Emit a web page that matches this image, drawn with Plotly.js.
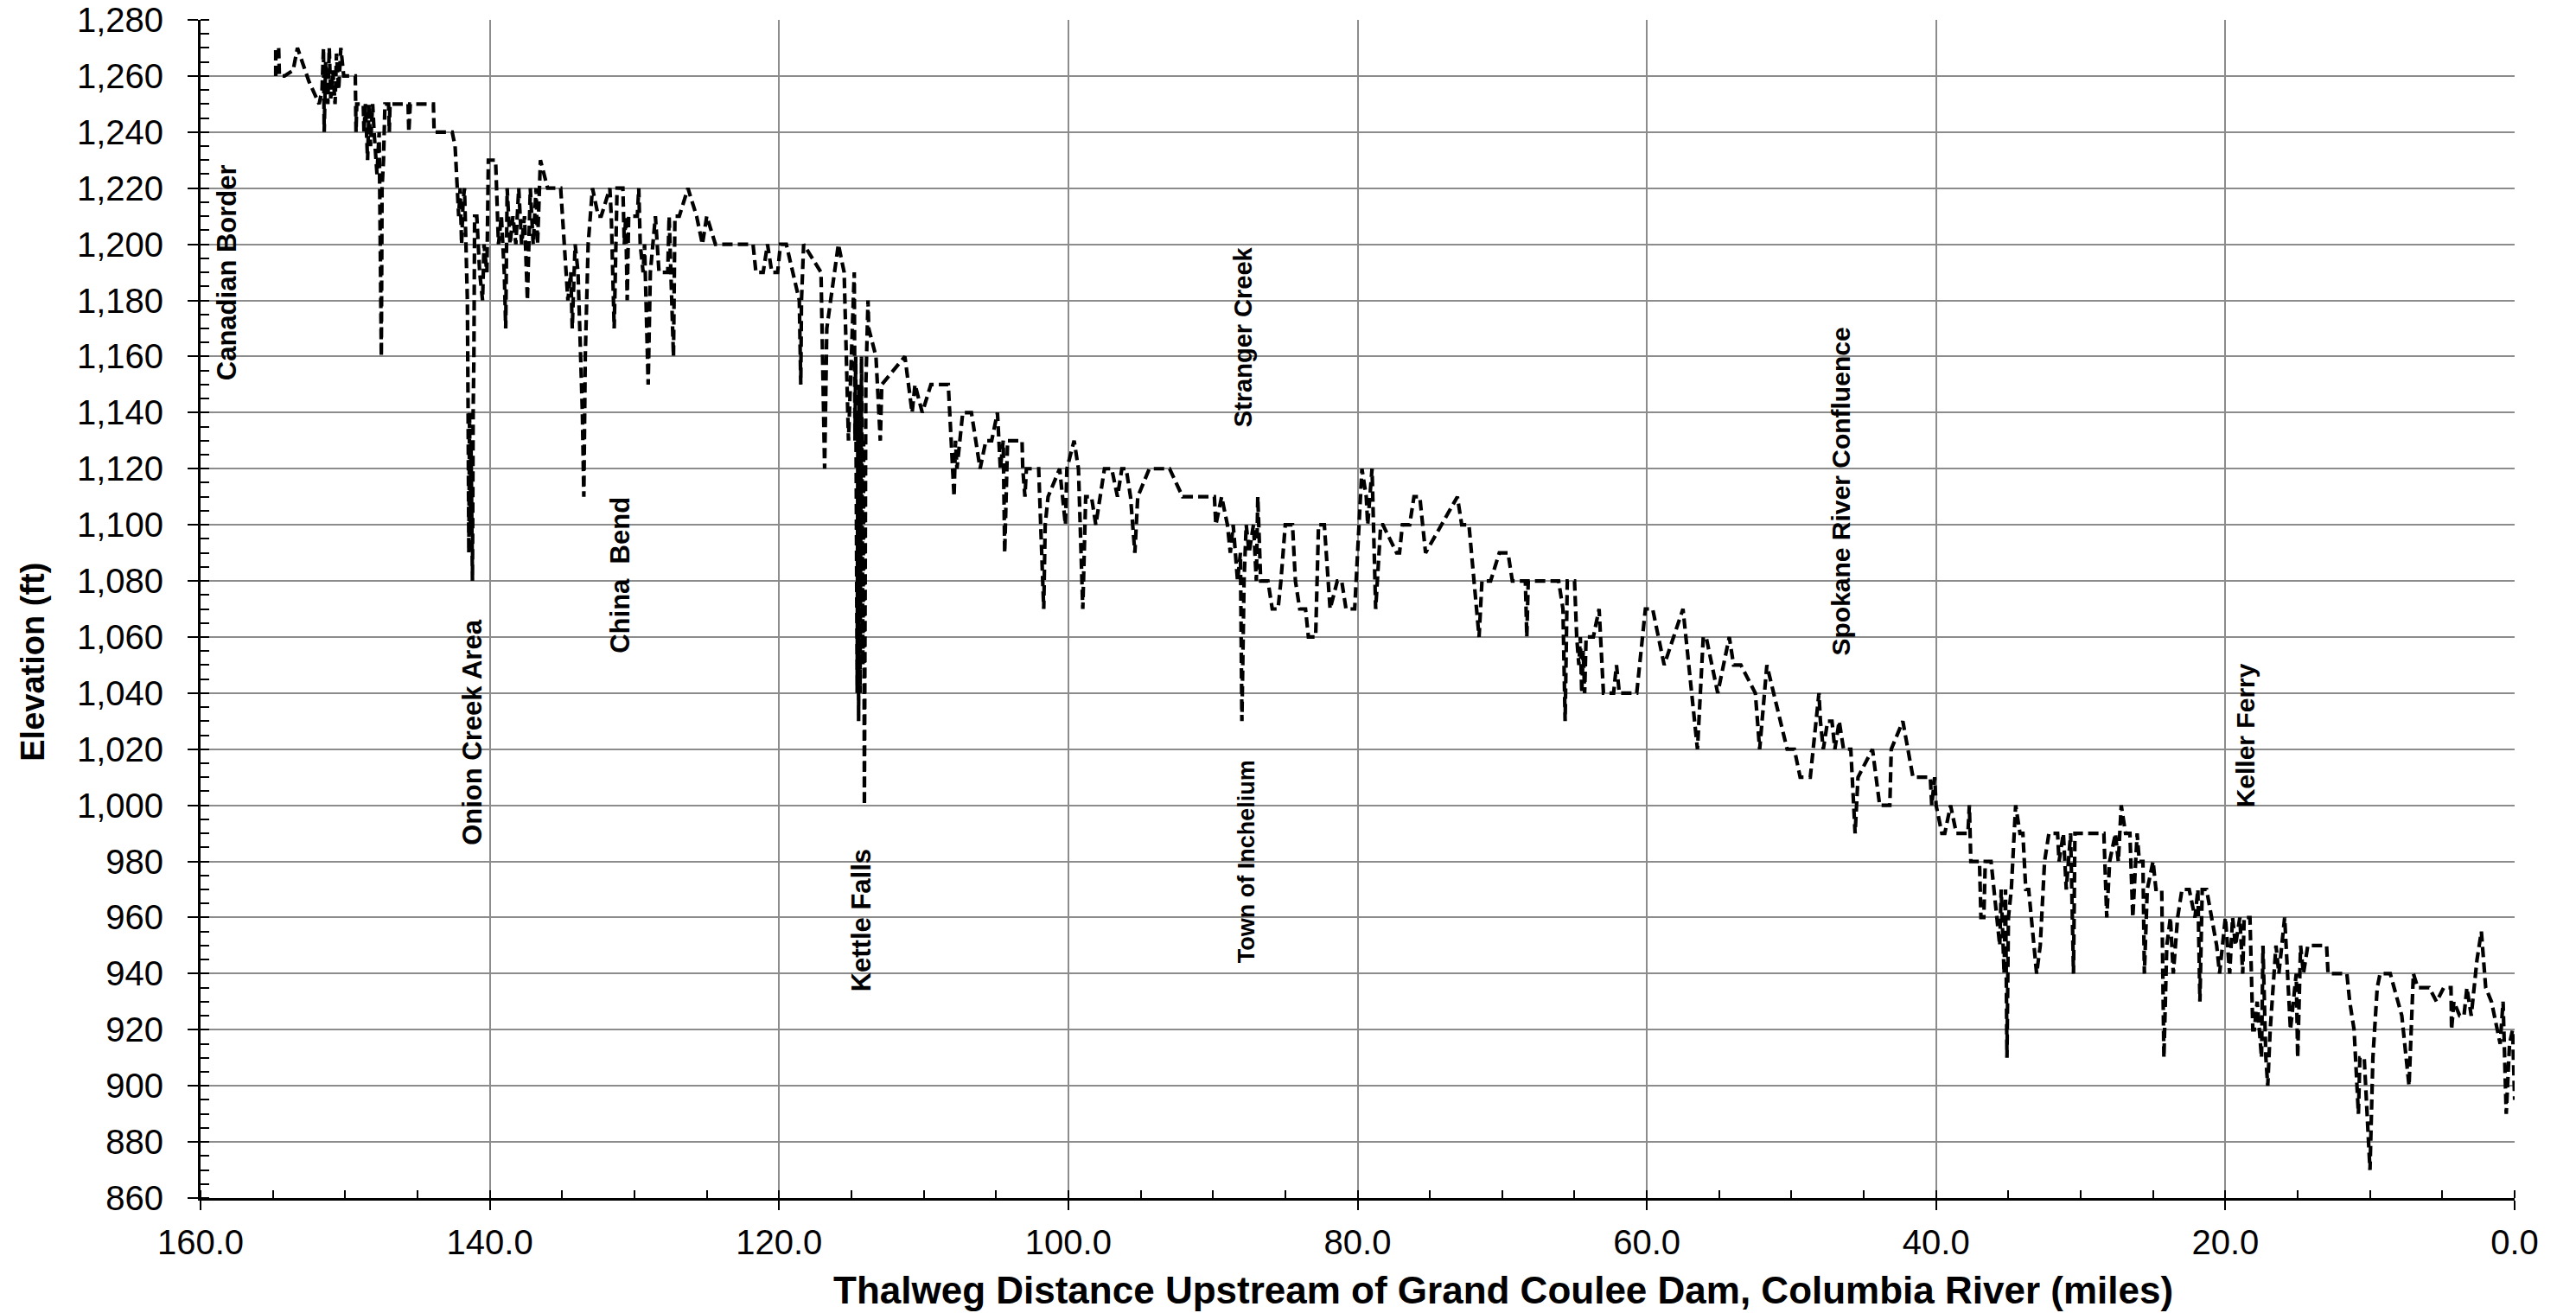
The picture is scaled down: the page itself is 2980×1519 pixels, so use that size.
<!DOCTYPE html>
<html>
<head>
<meta charset="utf-8">
<script src="https://cdn.plot.ly/plotly-3.0.1.min.js"></script>
<style>
  html, body { margin: 0; padding: 0; background: #fff; }
  #chart { width: 2980px; height: 1519px; }
</style>
</head>
<body>
<div id="chart"></div>
<script>
// Thalweg profile: distance upstream of Grand Coulee Dam (miles) and bed elevation (ft)
const distanceMiles = [
  154.8,154.8,154.6,154.55,154.2,153.6,153.3,152.5,151.8,151.6,151.5,151.45,151.35,151.2,151.1,151.0,150.85,150.7,150.6,150.45,150.3,150.1,
  149.3,149.25,149.2,148.75,148.7,148.6,148.45,148.35,148.25,148.1,148.0,147.8,147.65,147.5,147.45,147.35,147.25,147.0,146.95,146.9,
  145.65,145.6,145.5,143.9,143.85,142.6,142.4,142.25,142.15,142.05,141.95,141.85,141.75,141.65,141.6,141.55,141.5,141.45,141.4,141.35,
  141.3,141.25,141.2,141.15,141.1,141.05,140.9,140.7,140.5,140.4,140.2,140.1,139.6,139.4,139.2,139.0,138.9,138.8,138.6,138.4,138.2,
  138.0,137.8,137.6,137.4,137.2,137.0,136.8,136.7,136.5,136.0,
  135.1,134.6,134.4,134.3,134.1,133.9,133.6,133.5,133.4,133.2,132.9,132.5,132.3,131.7,131.6,131.4,131.2,130.8,130.7,130.6,130.5,130.4,
  129.8,129.7,129.6,129.4,129.3,129.05,128.9,128.55,128.3,127.7,127.6,127.5,127.3,127.2,126.9,126.3,125.7,125.3,125.0,124.4,121.8,121.6,
  121.1,120.8,120.5,120.1,119.9,119.5,118.8,118.6,118.5,118.45,118.3,117.1,116.85,116.7,115.9,115.5,115.2,115.0,114.8,114.75,114.7,
  114.6,114.55,114.5,114.45,114.4,114.3,114.2,114.15,114.1,114.0,113.9,113.85,113.8,
  113.7,113.3,113.0,112.9,111.3,110.8,110.6,110.1,109.5,108.3,108.2,108.0,107.9,107.8,107.7,107.3,106.7,106.1,105.7,105.3,104.9,104.7,
  104.5,104.4,104.2,103.2,103.15,103.0,102.9,102.05,101.9,101.7,101.6,101.4,100.6,100.2,100.1,99.6,99.3,99.0,98.8,98.4,98.1,97.5,97.0,
  96.6,96.3,96.0,95.7,95.4,95.2,94.4,93.0,92.1,89.9,89.8,89.4,
  89.0,88.8,88.6,88.3,88.1,88.0,87.85,87.7,87.5,87.2,87.0,86.9,86.7,86.2,85.9,85.5,85.3,85.0,84.5,84.3,84.0,83.6,83.4,82.9,82.7,82.3,
  81.9,81.4,81.1,80.8,80.2,79.7,79.4,79.3,79.0,78.75,78.4,78.25,77.3,77.1,76.9,76.4,76.1,75.7,75.3,73.1,72.8,72.3,71.6,71.4,70.8,70.2,
  69.6,69.3,68.4,68.3,68.2,66.1,65.8,65.65,65.5,
  65.4,65.0,64.85,64.7,64.6,64.5,64.4,64.3,64.2,63.7,63.3,63.0,62.3,62.1,61.9,60.7,60.1,59.6,58.8,57.5,56.5,56.1,55.9,55.1,54.3,54.0,
  53.5,52.5,52.2,51.7,50.3,49.8,49.4,48.7,48.1,48.0,47.8,47.5,47.2,47.0,46.7,46.4,45.9,45.6,45.4,44.4,43.9,43.2,43.1,42.3,41.6,
  41.0,40.4,40.3,40.1,40.0,39.6,39.4,39.0,38.6,37.8,37.7,37.6,37.0,36.9,36.7,36.6,36.2,35.8,35.6,35.5,35.3,35.2,35.1,35.0,34.8,34.5,
  34.2,34.0,33.8,33.6,33.05,32.8,32.5,32.2,31.6,31.5,31.2,31.0,30.7,30.5,30.4,28.4,28.2,28.0,27.6,27.4,27.2,26.9,26.6,26.4,26.1,25.95,
  25.7,25.6,25.4,25.0,24.8,24.4,24.25,24.05,23.8,23.6,23.3,23.0,22.5,22.1,21.9,21.76,21.6,21.3,20.6,20.4,20.0,19.7,19.5,19.3,19.0,18.8,
  18.7,18.3,18.1,
  18.0,17.8,17.5,17.4,17.2,17.07,16.9,16.5,16.3,16.1,15.9,15.5,15.1,15.0,14.8,14.6,14.3,13.0,12.9,11.6,11.4,11.1,10.8,10.7,10.4,10.0,
  9.8,9.5,9.3,8.6,8.1,7.8,7.3,7.0,6.7,5.9,5.4,4.9,4.4,4.36,4.2,3.8,3.5,3.3,3.0,2.6,2.3,2.0,1.6,1.2,1.0,0.8,0.58,0.35,0.14,0.0
];
const elevationFt = [
  1260,1270,1270,1260,1260,1262,1270,1258,1250,1255,1270,1240,1265,1250,1270,1252,1262,1250,1268,1255,1270,1260,
  1260,1240,1250,1250,1240,1250,1230,1250,1235,1250,1240,1225,1240,1160,1220,1230,1250,1250,1240,1250,
  1250,1240,1250,1250,1240,1240,1235,1220,1210,1220,1200,1215,1220,1200,1190,1180,1140,1090,1140,1100,
  1130,1090,1080,1140,1160,1210,1210,1190,1180,1200,1190,1230,1230,1200,1210,1190,1170,1220,1200,1210,1200,
  1220,1200,1210,1180,1220,1200,1220,1200,1230,1220,
  1220,1180,1190,1170,1200,1190,1140,1110,1160,1200,1220,1210,1210,1220,1210,1170,1220,1220,1200,1210,1180,1210,
  1210,1220,1200,1190,1200,1150,1190,1210,1190,1190,1210,1195,1160,1210,1210,1220,1210,1200,1210,1200,1200,1190,
  1190,1200,1190,1190,1200,1200,1185,1180,1150,1180,1200,1190,1120,1170,1200,1190,1130,1160,1190,1130,1160,
  1040,1140,1030,1150,1040,1160,1050,1130,1000,1150,1170,1180,1170,
  1168,1160,1130,1150,1160,1140,1150,1140,1150,1150,1140,1120,1110,1130,1120,1140,1140,1120,1130,1130,1140,1120,
  1130,1090,1130,1130,1120,1110,1120,1120,1100,1070,1100,1110,1120,1100,1120,1130,1120,1070,1110,1110,1100,1120,1120,
  1110,1120,1120,1110,1090,1110,1120,1120,1110,1110,1100,1110,
  1100,1090,1100,1080,1090,1030,1080,1100,1090,1100,1080,1110,1080,1080,1070,1070,1080,1100,1100,1080,1070,1070,1060,1060,1100,1100,
  1070,1080,1080,1070,1070,1120,1110,1100,1120,1070,1100,1100,1090,1090,1100,1100,1110,1110,1090,1110,1100,1100,1060,1080,1080,1090,
  1090,1080,1080,1060,1080,1080,1070,1030,1080,
  1080,1080,1060,1050,1060,1040,1055,1040,1060,1060,1070,1040,1040,1050,1040,1040,1070,1070,1050,1070,1020,1060,1060,1040,1060,1050,
  1050,1040,1020,1050,1020,1020,1010,1010,1040,1030,1020,1030,1030,1020,1030,1020,1020,990,1010,1020,1000,1000,1020,1030,1010,
  1010,1010,1000,1010,1000,990,990,1000,990,990,1000,980,980,960,960,980,980,960,950,970,940,970,910,960,970,1000,
  990,990,970,970,940,950,980,990,990,980,990,970,990,940,990,990,960,980,990,980,1000,990,990,960,990,980,
  980,940,970,980,970,970,910,950,960,940,960,970,970,960,970,930,970,970,950,940,960,940,960,950,960,940,
  960,960,920,
  920,930,910,950,910,900,920,950,940,950,960,920,940,910,950,940,950,950,940,940,930,920,890,910,910,870,
  910,935,940,940,930,925,900,940,935,935,930,935,935,920,930,925,925,935,925,945,955,935,930,920,915,930,890,915,920,895
];

// Landmark labels (rotated text placed on the profile)
const landmarkNames = ["Canadian Border", "Onion Creek Area", "China  Bend", "Kettle Falls",
  "Stranger Creek", "Town of Inchelium", "Spokane River Confluence", "Keller Ferry"];
const landmarkMiles = [158.2, 141.2, 131.0, 114.3, 87.95, 87.7, 46.6, 18.6];
const landmarkElev = [1190, 1026, 1082, 959, 1167, 980, 1112, 1025];
const landmarkFontSize = [31, 31, 31, 31, 29, 27, 30, 30];

const xAxisTitle = "Thalweg Distance Upstream of Grand Coulee Dam, Columbia River (miles)";
const yAxisTitle = "Elevation (ft)";

const FONT = "Liberation Sans, Arial, sans-serif";

const trace = {
  x: distanceMiles,
  y: elevationFt,
  type: "scatter",
  mode: "lines",
  line: { color: "#000000", width: 4.2, dash: "12px,6px" },
  hoverinfo: "x+y"
};

const annotations = landmarkNames.map((t, i) => ({
  x: landmarkMiles[i], y: landmarkElev[i], xref: "x", yref: "y",
  text: "<b>" + t + "</b>", showarrow: false, textangle: -90,
  xanchor: "center", yanchor: "middle",
  font: { family: FONT, size: landmarkFontSize[i], color: "#000" }
}));
annotations.push({
  x: 0.563, y: -0.078, xref: "paper", yref: "paper", showarrow: false,
  text: "<b>" + xAxisTitle + "</b>", xanchor: "center", yanchor: "middle",
  font: { family: FONT, size: 44, color: "#000" }
});
annotations.push({
  x: -0.0725, y: 0.455, xref: "paper", yref: "paper", showarrow: false,
  text: "<b>" + yAxisTitle + "</b>", textangle: -90, xanchor: "center", yanchor: "middle",
  font: { family: FONT, size: 38, color: "#000" }
});

const layout = {
  width: 2980, height: 1519,
  margin: { l: 232, r: 71, t: 23, b: 133, pad: 0 },
  paper_bgcolor: "#ffffff", plot_bgcolor: "#ffffff",
  showlegend: false,
  xaxis: {
    range: [160, 0], tickmode: "linear", tick0: 0, dtick: 20, tickformat: ".1f",
    showgrid: true, gridcolor: "#8c8c8c", gridwidth: 2, zeroline: false,
    showline: true, linecolor: "#000", linewidth: 3,
    ticks: "outside", ticklen: 11, tickwidth: 2, tickcolor: "#000",
    ticklabelstandoff: 3,
    tickfont: { family: FONT, size: 40, color: "#000" },
    minor: { dtick: 5, tick0: 0, ticks: "inside", ticklen: 9, tickwidth: 2, tickcolor: "#000", showgrid: false }
  },
  yaxis: {
    range: [860, 1280], tickmode: "linear", tick0: 860, dtick: 20, tickformat: ",d",
    showgrid: true, gridcolor: "#8c8c8c", gridwidth: 2, zeroline: false,
    showline: true, linecolor: "#000", linewidth: 3,
    ticks: "outside", ticklen: 12, tickwidth: 2, tickcolor: "#000",
    ticklabelstandoff: 20,
    tickfont: { family: FONT, size: 40, color: "#000" },
    minor: { dtick: 5, tick0: 860, ticks: "inside", ticklen: 10, tickwidth: 2, tickcolor: "#000", showgrid: false }
  },
  annotations: annotations
};

Plotly.newPlot("chart", [trace], layout, { displayModeBar: false, staticPlot: true });
</script>
</body>
</html>
